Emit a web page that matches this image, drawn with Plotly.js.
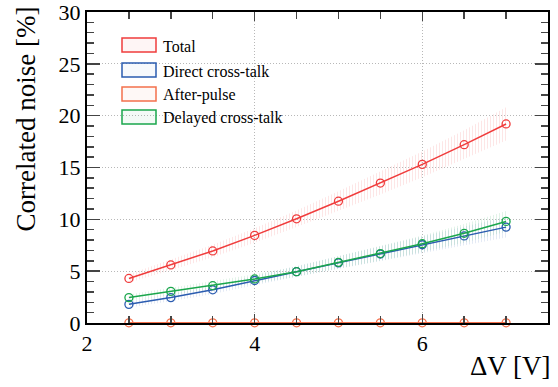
<!DOCTYPE html>
<html>
<head>
<meta charset="utf-8">
<script src="https://cdn.plot.ly/plotly-3.0.1.min.js"></script>
<style>html,body{margin:0;padding:0;background:#fff;}#chart{width:558px;height:387px;}</style>
</head>
<body>
<div id="chart"></div>
<script>
// ---- data ----
const overVoltage = [2.5, 3.0, 3.5, 4.0, 4.5, 5.0, 5.5, 6.0, 6.5, 7.0];
const totalNoise   = [4.3, 5.6, 6.95, 8.45, 10.05, 11.75, 13.5, 15.3, 17.2, 19.2];
const directXT     = [1.8, 2.45, 3.2, 4.1, 4.95, 5.8, 6.65, 7.55, 8.4, 9.25];
const afterPulse   = [0.02, 0.02, 0.02, 0.02, 0.02, 0.02, 0.02, 0.02, 0.02, 0.02];
const delayedXT    = [2.45, 3.05, 3.6, 4.25, 4.95, 5.85, 6.7, 7.65, 8.65, 9.8];
const totalErr     = [0.4, 0.5, 0.6, 0.7, 0.8, 0.95, 1.1, 1.25, 1.4, 1.6];
const directErr    = [0.3, 0.35, 0.4, 0.45, 0.5, 0.6, 0.7, 0.8, 0.9, 1.0];
const afterErr     = [0.02, 0.02, 0.02, 0.02, 0.02, 0.02, 0.02, 0.02, 0.02, 0.02];
const delayedErr   = [0.3, 0.35, 0.4, 0.45, 0.5, 0.6, 0.7, 0.8, 0.9, 1.0];
const seriesNames  = ["Total", "Direct cross-talk", "After-pulse", "Delayed cross-talk"];
const xTickVals = [2, 4, 6];
const yTickVals = [0, 5, 10, 15, 20, 25, 30];

const FONT = "Times New Roman, Liberation Serif, serif";
const colors = ["#f03c3c", "#2b5cb0", "#f4704c", "#1aa64c"];
const fills  = ["rgba(240,60,60,0.05)", "rgba(43,92,176,0.04)", "rgba(244,112,76,0.05)", "rgba(26,166,76,0.05)"];
const values = [totalNoise, directXT, afterPulse, delayedXT];
const errs   = [totalErr, directErr, afterErr, delayedErr];

function hexA(h, a) {
  const r = parseInt(h.slice(1,3),16), g = parseInt(h.slice(3,5),16), b = parseInt(h.slice(5,7),16);
  return `rgba(${r},${g},${b},${a})`;
}

const traces = [];
values.forEach((v, i) => {
  const up = v.map((y, k) => y + errs[i][k]);
  const lo = v.map((y, k) => Math.max(0, y - errs[i][k]));
  traces.push({
    x: overVoltage.concat(overVoltage.slice().reverse()),
    y: up.concat(lo.slice().reverse()),
    type: "scatter", mode: "lines", fill: "toself",
    line: {width: 0, color: "rgba(0,0,0,0)"},
    fillcolor: "rgba(0,0,0,0)",
    fillpattern: {shape: "|", size: 3, solidity: 0.3,
      fgcolor: hexA(colors[i], 0.14), bgcolor: "rgba(0,0,0,0)"},
    hoverinfo: "skip", showlegend: false
  });
});
values.forEach((v, i) => {
  traces.push({
    x: overVoltage, y: v, type: "scatter", mode: "lines+markers", name: seriesNames[i],
    line: {color: colors[i], width: 1.5},
    marker: {symbol: "circle-open", size: 8, color: colors[i], line: {width: 1.3}},
    cliponaxis: false, showlegend: false
  });
});

// manual legend (boxes + labels), positioned in pixels of the plot area
const L = 87, T = 12, W = 461, H = 311;
const px = p => (p - L) / W;
const py = p => (T + H - p) / H;
const rowY = [45, 70, 94, 117];
const shapes = [], annotations = [];
seriesNames.forEach((n, i) => {
  shapes.push({type: "rect", xref: "paper", yref: "paper",
    x0: px(122), x1: px(156), y0: py(rowY[i] + 7), y1: py(rowY[i] - 7),
    line: {color: colors[i], width: 1.5}, fillcolor: fills[i]});
  annotations.push({xref: "paper", yref: "paper", x: px(161), y: py(rowY[i] + 1),
    xanchor: "left", yanchor: "middle", showarrow: false, text: n,
    font: {family: FONT, size: 16, color: "#000"}});
});
annotations.push({xref: "paper", yref: "paper", x: px(25), y: py(5), xanchor: "center", yanchor: "top",
  textangle: -90, showarrow: false, text: "Correlated noise [%]",
  font: {family: FONT, size: 27, color: "#000"}});
annotations.push({xref: "paper", yref: "paper", x: px(553), y: py(366), xanchor: "right", yanchor: "middle",
  showarrow: false, text: "ΔV [V]",
  font: {family: FONT, size: 27, color: "#000"}});

const axisCommon = {
  ticks: "inside", tickwidth: 1.5, showline: true, linewidth: 2, linecolor: "#000", mirror: "ticks",
  showgrid: true, gridcolor: "#b8b8b8", griddash: "1px,2px", gridwidth: 1, zeroline: false,
  ticklabeloverflow: "allow", tickfont: {family: FONT, size: 22, color: "#000"}
};
const layout = {
  width: 558, height: 387,
  margin: {l: L, r: 558 - L - W, t: T, b: 387 - T - H},
  paper_bgcolor: "#fff", plot_bgcolor: "#fff",
  font: {family: FONT, size: 22, color: "#000"},
  showlegend: false,
  xaxis: Object.assign({}, axisCommon, {range: [2, 7.5], tickvals: xTickVals, ticklen: 9,
    minor: {dtick: 0.5, ticks: "inside", ticklen: 7, tickwidth: 1.5, showgrid: false}}),
  yaxis: Object.assign({}, axisCommon, {range: [0, 30], tickvals: yTickVals, ticklen: 13,
    minor: {dtick: 1, ticks: "inside", ticklen: 7, tickwidth: 1.5, showgrid: false}}),
  shapes: shapes, annotations: annotations
};
Plotly.newPlot("chart", traces, layout, {displayModeBar: false, staticPlot: true});
</script>
</body>
</html>
